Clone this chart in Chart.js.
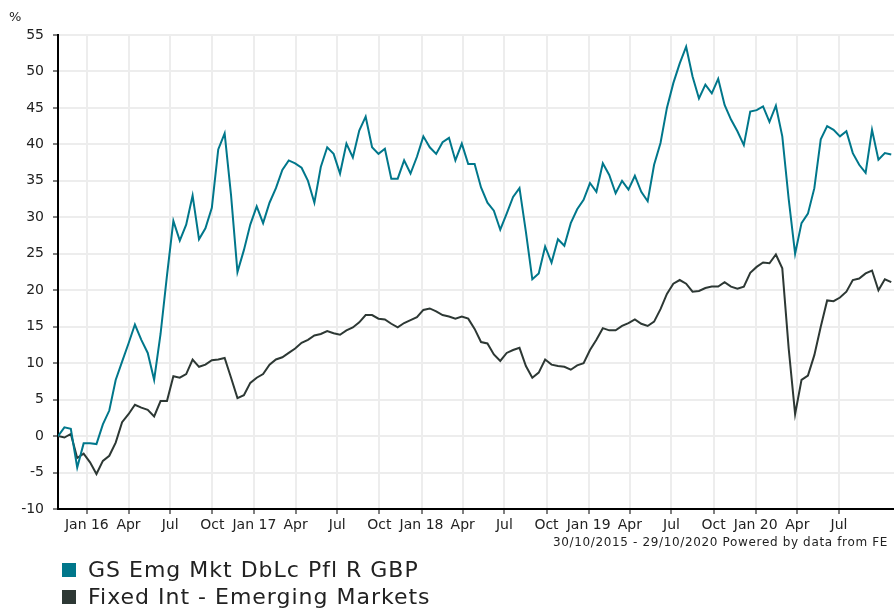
<!DOCTYPE html>
<html>
<head>
<meta charset="utf-8">
<script src="https://cdn.jsdelivr.net/npm/chart.js@4.4.0/dist/chart.umd.min.js"></script>
<style>
  html, body { margin: 0; padding: 0; background: #fff; }
  #wrap { position: relative; width: 894px; height: 608px; font-family: "DejaVu Sans", Verdana, sans-serif; color: #222; }
  #chart { position: absolute; left: 0; top: 0; }
  .pct { position: absolute; left: 9px; top: 9px; font-size: 13px; }
  .range { position: absolute; right: 6px; top: 535px; font-size: 12px; letter-spacing: 0.65px; }
  .legend { position: absolute; left: 62px; top: 556px; font-size: 22px; line-height: 27px; letter-spacing: 1px; }
  .legend div { white-space: nowrap; }
  .sw { display: inline-block; width: 14px; height: 14px; margin-right: 12px; }
</style>
</head>
<body>
<div id="wrap">
  <canvas id="chart" width="894" height="608"></canvas>
  <div class="pct">%</div>
  <div class="range">30/10/2015 - 29/10/2020 Powered by data from FE</div>
  <div class="legend" id="legend"></div>
</div>
<script>
// ===== DATA =====
const startDate = '2015-10-30';
const endDate = '2020-10-29';
const stepDays = 14;

const seriesNames = ['GS Emg Mkt DbLc Pfl R GBP', 'Fixed Int - Emerging Markets'];
const seriesColors = ['#00778b', '#2d3834'];

// fund, % growth, fortnightly from 30/10/2015
const fundValues = [
    0, 1.2, 1.0, -4.3, -1.0, -1.0, -1.1, 1.6, 3.5, 7.7,
    10.2, 12.7, 15.3, 13.2, 11.4, 7.7, 14.0, 22.0, 29.5, 26.8,
    29.0, 33.0, 27.0, 28.5, 31.3, 39.3, 41.5, 33.0, 22.5, 25.5,
    29.0, 31.5, 29.2, 32.0, 34.0, 36.5, 37.8, 37.4, 36.8, 35.0,
    32.0, 36.9, 39.6, 38.7, 36.0, 40.1, 38.2, 41.9, 43.8, 39.6,
    38.7, 39.4, 35.3, 35.3, 37.8, 36.0, 38.3, 41.1, 39.6, 38.7,
    40.3, 40.9, 37.8, 40.1, 37.3, 37.3, 34.1, 32.0, 30.9, 28.3,
    30.5, 32.8, 34.0, 28.0, 21.5, 22.3, 26.0, 23.8, 27.0, 26.1,
    29.2, 31.1, 32.4, 34.7, 33.5, 37.4, 35.8, 33.3, 35.0, 33.8,
    35.7, 33.5, 32.2, 37.2, 40.2, 45.0, 48.4, 51.1, 53.4, 49.3,
    46.3, 48.2, 47.0, 49.0, 45.4, 43.4, 41.8, 39.9, 44.5, 44.7,
    45.2, 43.1, 45.3, 41.1, 32.5, 25.0, 29.2, 30.5, 34.0, 40.7,
    42.5, 42.0, 41.1, 41.8, 38.8, 37.2, 36.1, 42.0, 37.9, 38.8, 38.6
];

// sector average, same dates
const sectorValues = [
    0, -0.2, 0.3, -3.0, -2.4, -3.6, -5.2, -3.4, -2.7, -0.9,
    1.9, 3.0, 4.3, 3.9, 3.6, 2.7, 4.8, 4.8, 8.2, 8.0,
    8.5, 10.5, 9.5, 9.8, 10.4, 10.5, 10.7, 8.0, 5.2, 5.6,
    7.3, 8.0, 8.5, 9.8, 10.5, 10.8, 11.4, 12.0, 12.8, 13.2,
    13.8, 14.0, 14.4, 14.1, 13.9, 14.5, 14.9, 15.6, 16.6, 16.6,
    16.1, 16.0, 15.4, 14.9, 15.5, 15.9, 16.3, 17.3, 17.5, 17.1,
    16.6, 16.4, 16.1, 16.4, 16.1, 14.7, 12.9, 12.7, 11.2, 10.3,
    11.4, 11.8, 12.1, 9.6, 8.0, 8.7, 10.5, 9.8, 9.6, 9.5,
    9.1, 9.7, 10.0, 11.8, 13.2, 14.8, 14.5, 14.5, 15.1, 15.5,
    16.0, 15.4, 15.1, 15.7, 17.4, 19.5, 20.9, 21.4, 20.9, 19.8,
    19.9, 20.3, 20.5, 20.5, 21.1, 20.5, 20.2, 20.5, 22.4, 23.2,
    23.8, 23.7, 24.9, 23.0, 12.0, 3.0, 7.7, 8.3, 11.1, 15.0,
    18.6, 18.5, 19.0, 19.8, 21.4, 21.6, 22.3, 22.7, 20.0, 21.5, 21.1
];

const tickDates = [
    '2016-01-01', '2016-04-01', '2016-07-01', '2016-10-01',
    '2017-01-01', '2017-04-01', '2017-07-01', '2017-10-01',
    '2018-01-01', '2018-04-01', '2018-07-01', '2018-10-01',
    '2019-01-01', '2019-04-01', '2019-07-01', '2019-10-01',
    '2020-01-01', '2020-04-01', '2020-07-01'
];
const tickLabels = [
    'Jan 16', 'Apr', 'Jul', 'Oct', 'Jan 17', 'Apr', 'Jul', 'Oct',
    'Jan 18', 'Apr', 'Jul', 'Oct', 'Jan 19', 'Apr', 'Jul', 'Oct',
    'Jan 20', 'Apr', 'Jul'
];
const yTicks = [-10, -5, 0, 5, 10, 15, 20, 25, 30, 35, 40, 45, 50, 55];

// ===== HELPERS =====
const dayOf = (s) => (Date.parse(s) - Date.parse(startDate)) / 864e5;
const toPoints = (vals) => vals.map((v, i) => ({ x: i * stepDays, y: v }));
const tickDays = tickDates.map(dayOf);
const FONT = '"DejaVu Sans", Verdana, sans-serif';

// ===== LEGEND =====
document.getElementById('legend').innerHTML = seriesNames
    .map((n, i) => `<div><span class="sw" style="background:${seriesColors[i]}"></span>${n}</div>`)
    .join('');

// ===== CHART =====
new Chart(document.getElementById('chart'), {
    type: 'line',
    data: {
        datasets: [
            { label: seriesNames[0], data: toPoints(fundValues), borderColor: seriesColors[0] },
            { label: seriesNames[1], data: toPoints(sectorValues), borderColor: seriesColors[1] }
        ]
    },
    options: {
        responsive: false,
        animation: false,
        parsing: false,
        elements: {
            line: { borderWidth: 2, tension: 0 },
            point: { radius: 0 }
        },
        layout: { padding: { top: 35, right: 0, bottom: 0, left: 0 } },
        plugins: {
            legend: { display: false },
            tooltip: { enabled: false }
        },
        scales: {
            x: {
                type: 'linear',
                min: 0,
                max: dayOf(endDate),
                afterBuildTicks: (s) => { s.ticks = tickDays.map(v => ({ value: v })); },
                afterFit: (s) => { s.height = 99; },
                ticks: {
                    autoSkip: false,
                    maxRotation: 0,
                    padding: 3,
                    color: '#222',
                    font: { family: FONT, size: 14 },
                    callback: (v, i) => tickLabels[i]
                },
                grid: { color: '#ededed', lineWidth: 2, tickColor: '#000', tickLength: 5, tickWidth: 1 },
                border: { color: '#000', width: 2 }
            },
            y: {
                min: -10,
                max: 55,
                afterBuildTicks: (s) => { s.ticks = yTicks.map(v => ({ value: v })); },
                afterFit: (s) => { s.width = 58; },
                ticks: {
                    padding: 9,
                    color: '#222',
                    font: { family: FONT, size: 14 }
                },
                grid: { color: '#ededed', lineWidth: 2, tickColor: '#000', tickLength: 5, tickWidth: 1 },
                border: { color: '#000', width: 2 }
            }
        }
    }
});
</script>
</body>
</html>
